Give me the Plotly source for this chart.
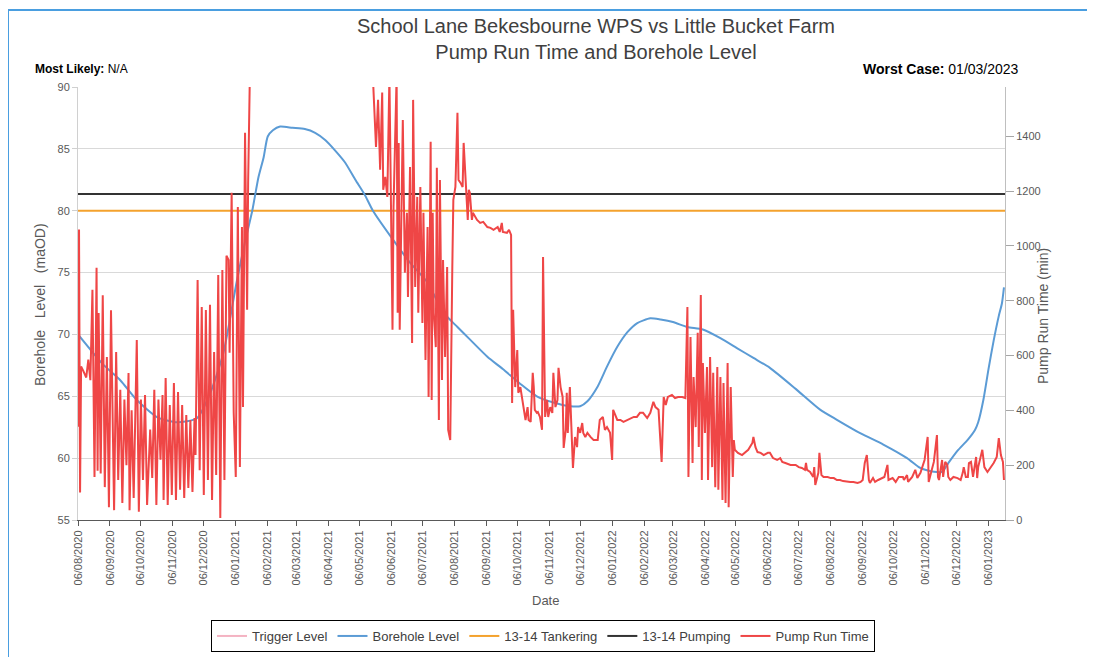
import pandas as pd
import plotly.graph_objects as go

# ---------------- data ----------------
start_date = "2020-08-06"   # day 0 of the day offsets below
axis_end = "2023-01-22"

# Pump run time (minutes), by day offset from start_date
pump_day = [
    0, 1, 2, 3, 5, 8, 10, 12, 14, 16,
    18, 19, 20, 22, 24, 26, 28, 30, 32, 35,
    37, 39, 41, 43, 45, 47, 49, 50, 52, 54,
    57, 59, 61, 63, 65, 67, 70, 72, 74, 76,
    78, 80, 82, 83, 85, 87, 89, 91, 93, 95,
    97, 99, 101, 103, 105, 107, 109, 111, 113, 114,
    116, 118, 120, 122, 124, 126, 128, 130, 132, 134,
    136, 138, 140, 142, 144, 146, 147, 149, 151, 153,
    155, 157, 159, 160, 162, 164, 165, 167,
    175, 200, 230, 260, 285,
    286, 287, 289, 291, 293, 295, 296, 298, 300, 302,
    305, 306, 309, 310, 311, 312, 315, 317, 319, 320,
    322, 324, 325, 327, 329, 330, 332, 334, 335, 337,
    339, 340, 342, 343, 344, 345, 347, 348, 350, 351,
    353, 354, 356, 358, 359, 361, 362, 363, 364, 366,
    368, 369, 371, 373, 374, 376, 378, 379, 380, 382,
    383, 387, 390, 393, 397, 400, 403, 407, 409, 411,
    412, 416, 418, 420, 421,
    422, 424, 426, 427, 429, 431, 432, 434, 436, 437,
    439, 441, 442, 443, 445, 446, 448, 450, 451, 453,
    455, 456, 458, 460, 461, 463, 465, 466, 468, 470,
    471, 473, 474, 475, 477, 479, 480, 482, 484, 485,
    487, 489, 490, 492, 494, 497, 500, 504, 506, 509,
    511, 513, 516, 518, 519, 523, 526, 529, 533, 536,
    539, 542, 545, 548, 552, 555, 558, 560, 563, 566,
    568, 570, 572, 576, 579, 582, 586, 589,
    591, 592, 594, 596, 597, 599, 601, 602, 604, 605,
    606, 608, 610, 611, 613, 615, 616, 618, 620, 621,
    623, 625, 626, 628, 630, 631, 633, 635, 636, 637,
    640, 644, 647, 650, 654, 655, 657, 659,
    662, 665, 669, 671, 674, 678, 681, 683, 686, 691,
    696, 699, 702, 705, 706, 707, 710, 713, 714, 715,
    717, 718, 719, 721, 723, 727, 730, 733, 736, 739,
    742, 746, 749, 752, 756, 759, 761, 763, 765, 767,
    768, 771, 773, 776, 780, 782, 785, 786, 790, 793,
    796, 800, 801, 804, 805, 809, 812, 814, 817, 819,
    821, 824, 825, 828, 830, 833, 834, 835, 838, 839,
    841, 843, 844, 846, 849, 853, 856, 858, 859, 861,
    863, 864, 866, 868, 869, 871, 872, 873, 877, 879,
    882, 885, 888, 891, 893, 895, 897, 898,
]
pump_min = [
    340, 1060, 100, 560, 545, 520, 585, 510, 840, 157,
    920, 180, 755, 170, 820, 120, 595, 47, 765, 36,
    613, 146, 475, 62, 440, 200, 536, 36, 400, 80,
    657, 30, 440, 146, 456, 55, 330, 153, 475, 55,
    440, 220, 456, 73, 518, 55, 420, 91, 500, 73,
    467, 110, 420, 80, 383, 117, 365, 102, 372, 237,
    876, 182, 777, 91, 766, 146, 785, 73, 613, 164,
    894, 7, 912, 146, 964, 949, 610, 1194, 391, 157,
    1142, 193, 1069, 412, 1413, 767, 1230, 1700,
    1800, 1750, 1850, 1800, 1700,
    1600, 1507, 1361, 1533, 1278, 1560, 1205, 1252, 1179, 1620,
    694, 1142, 1620, 756, 1376, 694, 1460, 902, 1121, 814,
    1288, 646, 1533, 850, 1179, 756, 1215, 719, 1121, 584,
    1069, 449, 1380, 438, 1121, 756, 631, 1285, 365, 1241,
    511, 949, 595, 923, 329, 292, 704, 923, 1168, 1215,
    1486, 1241, 1230, 1215, 1376, 1205, 1095, 1205, 1194, 1095,
    1121, 1095, 1084, 1088, 1069, 1066, 1059, 1069, 1051, 1084,
    1051, 1048, 1059, 1040, 427,
    767, 485, 620, 464, 485, 438, 427, 365, 412, 365,
    358, 537, 485, 402, 391, 394, 376, 329, 960, 376,
    438, 376, 412, 391, 537, 412, 438, 555, 485, 449,
    263, 329, 464, 318, 485, 256, 190, 303, 266, 339,
    318, 354, 318, 303, 318, 303, 292, 292, 365, 376,
    329, 339, 318, 219, 402, 365, 365, 358, 365, 372,
    376, 376, 391, 391, 372, 391, 431, 412, 402, 212,
    449, 420, 449, 456, 445, 449, 449, 445,
    777, 157, 668, 208, 522, 339, 683, 266, 821, 146,
    573, 318, 558, 146, 595, 193, 537, 120, 558, 110,
    522, 73, 500, 62, 573, 47, 485, 157, 292, 256,
    245, 237, 245, 256, 281, 303, 266, 248,
    245, 237, 245, 245, 226, 219, 226, 212, 208, 201,
    201, 193, 190, 183, 208, 183, 175, 157, 193, 128,
    157, 172, 245, 164, 157, 157, 153, 153, 146, 146,
    142, 139, 139, 139, 135, 139, 146, 208, 237, 146,
    135, 153, 139, 146, 153, 157, 201, 146, 153, 139,
    157, 157, 146, 164, 139, 157, 183, 153, 172, 193,
    219, 303, 139, 183, 212, 310, 157, 146, 219, 157,
    212, 201, 157, 146, 157, 153, 146, 172, 193, 157,
    157, 208, 212, 157, 183, 230, 153, 193, 256, 193,
    175, 190, 208, 230, 299, 237, 212, 146,
]

# Borehole level (maOD), by day offset from start_date
level_day = [
    0, 24, 41, 57, 77, 96, 115, 128, 141, 154,
    162, 169, 175, 180, 184, 189, 196, 208, 220, 230,
    240, 249, 259, 269, 278, 286, 306, 322, 339, 354,
    368, 380, 397, 412, 429, 445, 461, 477, 487, 494,
    504, 513, 523, 533, 542, 555, 565, 577, 591, 606,
    623, 639, 655, 671, 696, 720, 736, 759, 781, 804,
    815, 820, 830, 838, 844, 853, 863, 870, 873, 878,
    883, 888, 893, 896, 898,
]
level_maod = [
    70.0, 67.6, 66.3, 64.7, 63.3, 62.9, 63.2, 65.2, 68.5, 74.3,
    77.5, 80.0, 82.7, 84.3, 86.0, 86.5, 86.8, 86.7, 86.6, 86.3,
    85.7, 84.9, 83.9, 82.5, 81.3, 80.0, 77.6, 75.8, 74.2, 71.8,
    70.6, 69.6, 68.2, 67.2, 66.0, 65.0, 64.5, 64.2, 64.2, 64.6,
    65.8, 67.4, 69.0, 70.2, 70.9, 71.3, 71.2, 71.0, 70.6, 70.4,
    69.7, 68.9, 68.1, 67.3, 65.6, 63.9, 63.1, 62.0, 61.1, 60.0,
    59.3, 59.1, 58.9, 58.9, 59.6, 60.6, 61.5, 62.3, 62.9, 64.7,
    67.2, 69.5, 71.5, 72.5, 73.8,
]

tankering_level = 80.0   # 13-14 Tankering
pumping_level = 81.35    # 13-14 Pumping

assert len(pump_day) == len(pump_min)
assert len(level_day) == len(level_maod)

t0 = pd.Timestamp(start_date)
pump_dates = t0 + pd.to_timedelta(pump_day, unit="D")
level_dates = t0 + pd.to_timedelta(level_day, unit="D")
span = [t0, pd.Timestamp(axis_end)]

# ---------------- figure ----------------
OFF = 8                      # page body margin of the browser
W, H = 1095 - OFF, 657 - OFF
L, R, T, B = 70, 90, 79, 137
pw, ph = W - L - R, H - T - B


def px(x):
    """screen x (reference pixels) -> paper fraction"""
    return (x - OFF - L) / pw


def py(y):
    """screen y (reference pixels) -> paper fraction"""
    return (H - B - (y - OFF)) / ph


GRAY = "#595959"
FONT = "Liberation Sans, Arial, sans-serif"
NARROW = "Liberation Sans Narrow, Arial Narrow, Liberation Sans, sans-serif"
NB = "\u00a0"

fig = go.Figure()
fig.add_trace(go.Scatter(x=[t0], y=[None], mode="lines", name="Trigger Level",
                         line=dict(color="#f4b3c2", width=2), legendrank=1))
fig.add_trace(go.Scatter(x=span, y=[tankering_level] * 2, mode="lines",
                         name="13-14 Tankering", line=dict(color="#f4a22d", width=2),
                         legendrank=3))
fig.add_trace(go.Scatter(x=span, y=[pumping_level] * 2, mode="lines",
                         name="13-14 Pumping", line=dict(color="#333333", width=2),
                         legendrank=4))
fig.add_trace(go.Scatter(x=level_dates, y=level_maod, mode="lines",
                         name="Borehole Level",
                         line=dict(color="#5b9bd5", width=2, shape="spline", smoothing=0.6),
                         legendrank=2))
fig.add_trace(go.Scatter(x=pump_dates, y=pump_min, mode="lines", yaxis="y2",
                         name="Pump Run Time", line=dict(color="#ef4646", width=2),
                         legendrank=5))

fig.update_layout(
    width=W, height=H,
    margin=dict(l=L, r=R, t=T, b=B, autoexpand=False),
    paper_bgcolor="white", plot_bgcolor="white",
    font=dict(family=FONT, color=GRAY, size=11),
    showlegend=True,
    legend=dict(orientation="h", x=px(543), xanchor="center", y=py(620), yanchor="top",
                bordercolor="#000000", borderwidth=1, bgcolor="white",
                font=dict(size=13, color="#404040"), itemwidth=30,
                tracegroupgap=0),
    xaxis=dict(type="date", range=span, tick0=start_date, dtick="M1",
               tickformat="%d/%m/%Y", tickangle=-90, ticks="outside", ticklen=5,
               tickcolor=GRAY, showline=True, linecolor=GRAY, linewidth=1,
               showgrid=False, zeroline=False, tickfont=dict(size=11, color=GRAY)),
    yaxis=dict(range=[55, 90], dtick=5, tick0=55, showgrid=True, gridcolor="#d9d9d9",
               showline=True, linecolor="#d0d0d0", ticks="outside", ticklen=5,
               tickcolor="#d0d0d0", zeroline=False, tickfont=dict(size=11, color=GRAY)),
    yaxis2=dict(range=[0, 1580], dtick=200, tick0=0, overlaying="y", side="right",
                showgrid=False, showline=True, linecolor="#bfbfbf", ticks="outside",
                ticklen=8, tickcolor="#a6a6a6", zeroline=False,
                tickfont=dict(size=11, color=GRAY)),
    shapes=[dict(type="rect", xref="paper", yref="paper",
                 x0=px(8), x1=px(1200), y0=py(720), y1=py(10),
                 line=dict(color="#4a9ee0", width=2), fillcolor="rgba(0,0,0,0)", layer="below")],
    annotations=[
        dict(text="School Lane Bekesbourne WPS vs Little Bucket Farm<br>Pump Run Time and Borehole Level",
             xref="paper", yref="paper", x=px(596), y=py(13), xanchor="center", yanchor="top",
             showarrow=False, font=dict(size=20, color="#404040", family=FONT)),
        dict(text="<b>Most Likely:</b> N/A", xref="paper", yref="paper", x=px(33), y=py(69),
             xanchor="left", yanchor="middle", showarrow=False,
             font=dict(size=12, color="#000000", family=NARROW)),
        dict(text="<b>Worst Case:</b> 01/03/2023", xref="paper", yref="paper", x=px(1021), y=py(69),
             xanchor="right", yanchor="middle", showarrow=False,
             font=dict(size=14, color="#000000", family=NARROW)),
        dict(text=f"Borehole{NB * 3}Level{NB * 3}(maOD)", xref="paper", yref="paper",
             x=px(40), y=py(305), xanchor="center", yanchor="middle", textangle=-90,
             showarrow=False, font=dict(size=14, color=GRAY)),
        dict(text="Pump Run Time (min)", xref="paper", yref="paper",
             x=px(1043), y=py(316), xanchor="center", yanchor="middle", textangle=-90,
             showarrow=False, font=dict(size=14, color=GRAY)),
        dict(text="Date", xref="paper", yref="paper", x=px(545), y=py(600),
             xanchor="center", yanchor="middle", showarrow=False,
             font=dict(size=13, color=GRAY)),
    ],
)

fig.write_html("out.html")
